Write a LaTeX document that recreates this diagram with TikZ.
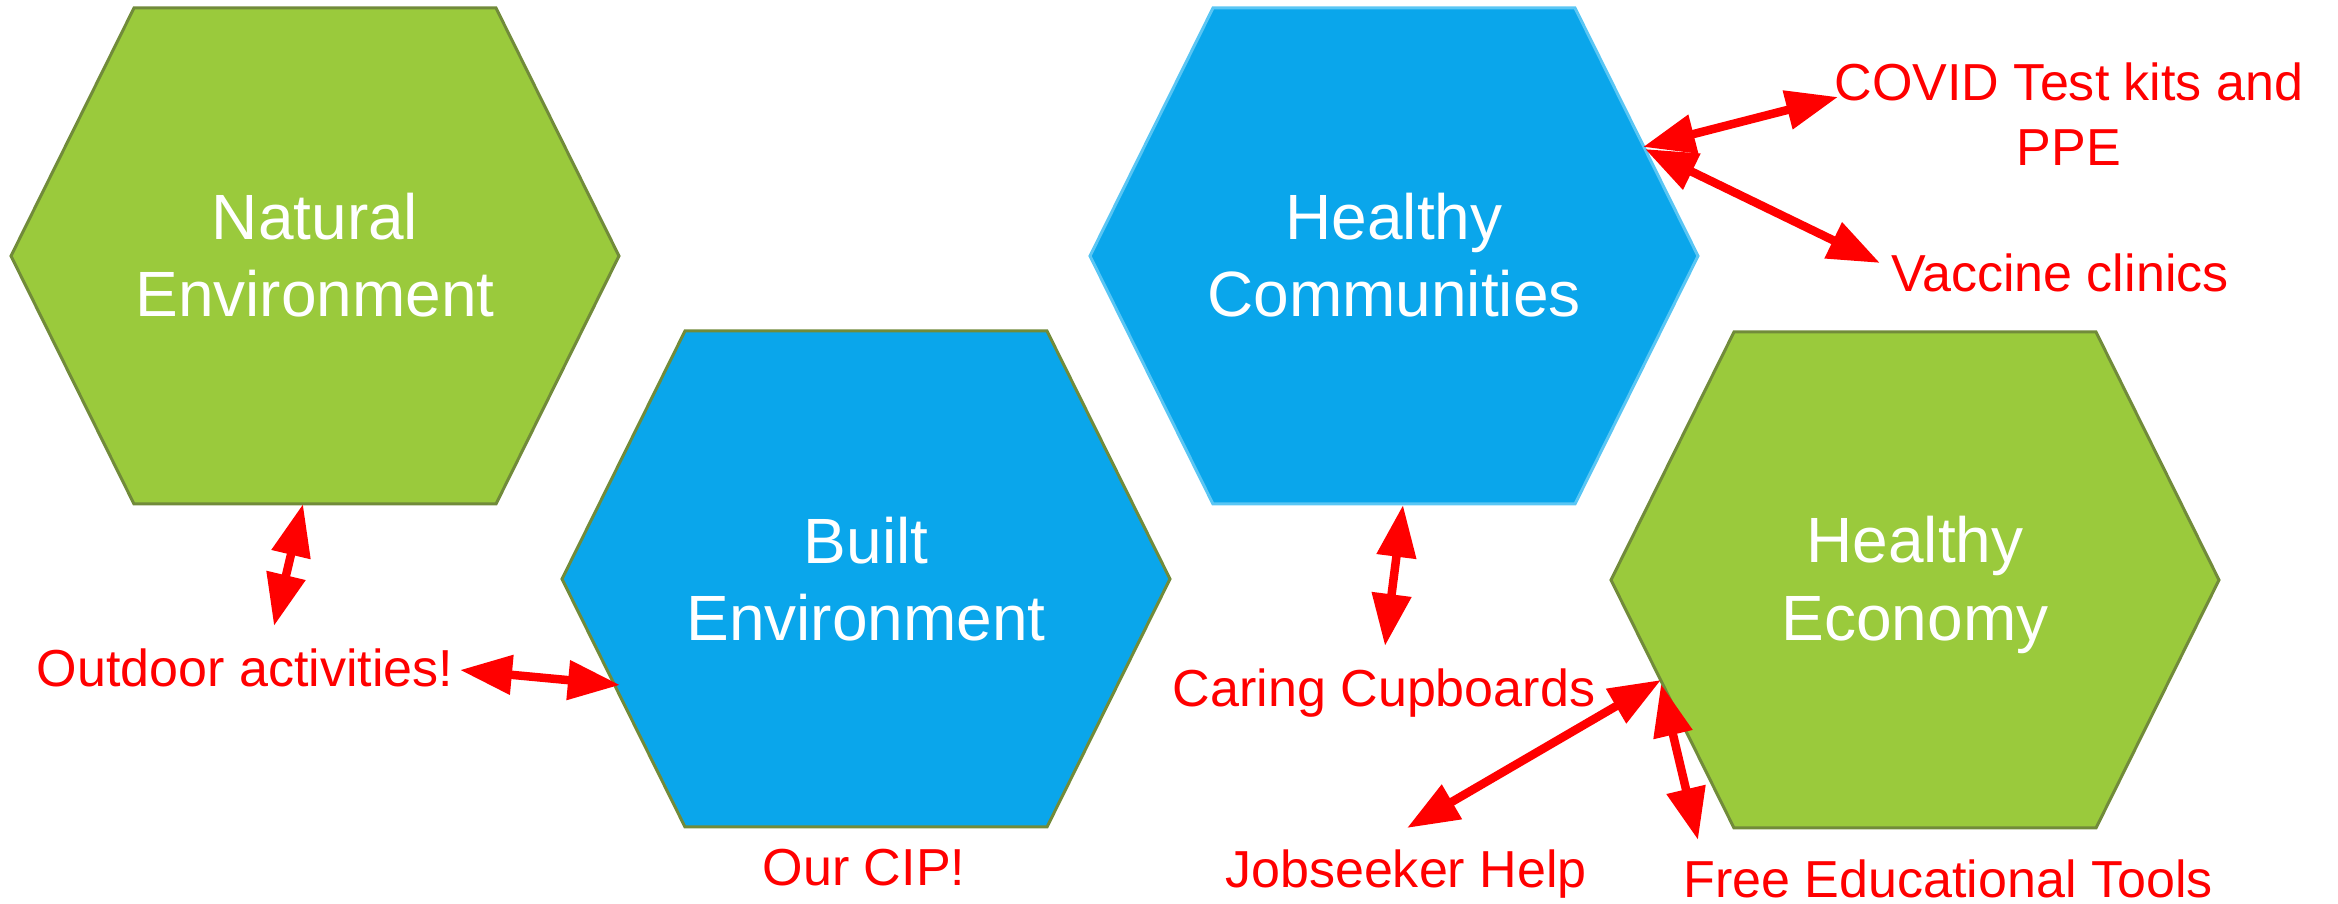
\documentclass[tikz,border=0pt]{standalone}
\usepackage{fontspec}
\setmainfont{Liberation Sans}
\usepackage{tikz}
\usetikzlibrary{arrows.meta}
\definecolor{vertf}{RGB}{154,202,60}
\definecolor{vertb}{RGB}{113,139,58}
\definecolor{bleuf}{RGB}{10,166,235}
\definecolor{bleub}{RGB}{90,198,244}
\definecolor{rouge}{RGB}{255,0,0}
\newcommand{\hexa}[3]{\filldraw[fill=#2, draw=#3, line width=0.3mm, shift={#1}]
  (-304,0) -- (-181,-248) -- (181,-248) -- (304,0) -- (181,248) -- (-181,248) -- cycle;}

\begin{document}
\begin{tikzpicture}[x=0.01cm, y=-0.01cm,
  hx/.style={text=white, align=center, inner sep=0pt, font=\fontsize{18.2}{22.1}\selectfont},
  lab/.style={text=rouge, align=center, inner sep=0pt, font=\fontsize{14.8}{18.5}\selectfont},
  fl/.style={{Triangle[length=5.2mm, width=3.8mm]}-{Triangle[length=5.2mm, width=3.8mm]}, line width=0.85mm, draw=rouge}]

\useasboundingbox (0,0) rectangle (2338,904);

% ── hexagones ──
\hexa{(315,256)}{vertf}{vertb}
\hexa{(866,579)}{bleuf}{vertb}
\hexa{(1394,256)}{bleuf}{bleub}
\hexa{(1915,580)}{vertf}{vertb}

\node[hx] (nat) at (315,255) {Natural\\Environment};
\node[hx] (bui) at (866,579) {Built\\Environment};
\node[hx] (com) at (1394,255) {Healthy\\Communities};
\node[hx] (eco) at (1915,585) {Healthy\\Economy};

% ── étiquettes ──
\node[lab, anchor=base] (outd) at (245,687) {Outdoor activities!};
\node[lab, anchor=base] (cip) at (864,886) {Our CIP!};
\node[lab, anchor=base] (cup) at (1384,707) {Caring Cupboards};
\node[lab, anchor=base] (job) at (1406,888) {Jobseeker Help};
\node[lab, anchor=base] (edu) at (1948,898) {Free Educational Tools};
\node[lab] (cov) at (2069,114) {COVID Test kits and\\PPE};
\node[lab, anchor=base] (vac) at (2060,292) {Vaccine clinics};

% ── bouts des flèches ──
\coordinate (natS) at (303,504);
\coordinate (outN) at (274,626);
\coordinate (outE) at (460,670);
\coordinate (buiW) at (620,685);
\coordinate (comS) at (1403,505);
\coordinate (cupN) at (1385,646);
\coordinate (comE) at (1643,147);
\coordinate (covW) at (1838,97);
\coordinate (comE2) at (1645,149);
\coordinate (vacW) at (1880,263);
\coordinate (ecoW) at (1661,680);
\coordinate (jobN) at (1407,828);
\coordinate (ecoW2) at (1661,684);
\coordinate (eduN) at (1698,840);

% ── flèches ──
\draw[fl] (natS) -- (outN);
\draw[fl] (outE) -- (buiW);
\draw[fl] (comS) -- (cupN);
\draw[fl] (comE) -- (covW);
\draw[fl] (comE2) -- (vacW);
\draw[fl] (ecoW) -- (jobN);
\draw[fl] (ecoW2) -- (eduN);

\end{tikzpicture}
\end{document}
